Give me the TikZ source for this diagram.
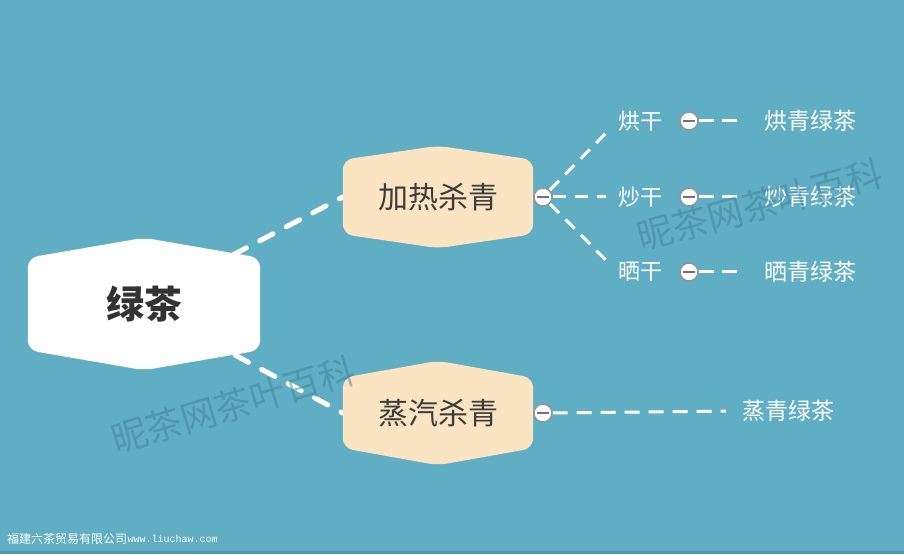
\documentclass[tikz,border=0pt]{standalone}
\usepackage{fontspec}
\setmainfont{Noto Sans CJK SC}
\newfontfamily\urlfont{Liberation Mono}
\usetikzlibrary{calc}
\definecolor{bgteal}{HTML}{60AEC4}
\definecolor{peach}{HTML}{FBE4C2}
\definecolor{darktext}{HTML}{3C3C3C}
\definecolor{wmark}{HTML}{3A7C92}
\definecolor{stripe}{HTML}{4E9AB0}
\pgfdeclarelayer{back}
\pgfdeclarelayer{mid}
\pgfsetlayers{back,mid,main}
\newcommand\hexshape[3]{%
  \fill[#3, rounded corners=10pt] (#1.south west) -- (#1.north west) -- ($(#1.north)+(0,#2)$) -- (#1.north east) -- (#1.south east) -- ($(#1.south)+(0,-#2)$) -- cycle;}
\tikzset{
  hexbox/.style={inner sep=0pt, text=darktext},
  knob/.style={circle, minimum size=18pt, inner sep=0pt, fill=white, draw=gray!85, line width=1.4pt,
    path picture={\draw[gray!90!black, line width=1.6pt] ([xshift=-6pt]path picture bounding box.center) -- ([xshift=6pt]path picture bounding box.center);}},
  lvl/.style={inner sep=0pt, text=white, font=\fontsize{22}{24}\selectfont},
  leaf/.style={inner sep=0pt, text=white, font=\fontsize{23}{25}\selectfont},
  mainlink/.style={white, line width=5pt, line cap=round, dash pattern=on 15pt off 15pt},
  sublink/.style={white, line width=3pt, dash pattern=on 13pt off 9pt},
  wmtext/.style={text=wmark, opacity=0.45, font=\fontsize{36}{38}\selectfont, inner sep=0pt}
}
\begin{document}
\begin{tikzpicture}[x=1pt,y=1pt]
\begin{pgfonlayer}{back}
  \fill[bgteal] (0,0) rectangle (904,554);
  \fill[stripe] (0,0) rectangle (904,3);
\end{pgfonlayer}
\useasboundingbox (0,0) rectangle (904,554);

% main nodes
\node[hexbox, minimum width=232pt, minimum height=92pt, text=black!80, font=\fontsize{38}{40}\selectfont\bfseries] (root) at (144,250) {绿茶};
\node[hexbox, minimum width=190pt, minimum height=74pt, font=\fontsize{30}{32}\selectfont] (kh) at (438,357) {加热杀青};
\node[hexbox, minimum width=190pt, minimum height=70pt, font=\fontsize{30}{32}\selectfont] (kz) at (438,141) {蒸汽杀青};

% knobs
\node[knob] (c1) at (543,357) {};
\node[knob] (c2) at (543,141) {};
\node[knob] (d1) at (689,433) {};
\node[knob] (d2) at (689,357) {};
\node[knob] (d3) at (689,282) {};

% level-3 and leaves
\node[lvl] (t1) at (640,433) {烘干};
\node[lvl] (t2) at (640,357) {炒干};
\node[lvl] (t3) at (640,282) {晒干};
\node[leaf] (l1) at (810,433) {烘青绿茶};
\node[leaf] (l2) at (810,357) {炒青绿茶};
\node[leaf] (l3) at (810,282) {晒青绿茶};
\node[leaf] (l4) at (788,143) {蒸青绿茶};

\begin{pgfonlayer}{mid}
  \draw[mainlink] ($(root.north east)+(-27,3)$) -- (kh.west);
  \draw[mainlink] ($(root.south east)+(-25,-5)$) -- (kz.west);
  \hexshape{root}{20}{white}
  \hexshape{kh}{14}{peach}
  \hexshape{kz}{17}{peach}
  \draw[sublink, shorten >=12pt] (c1) -- (t1.west);
  \draw[sublink, shorten >=12pt] (c1) -- (t2.west);
  \draw[sublink, shorten >=12pt] (c1) -- (t3.west);
  \draw[sublink, dash pattern=on 15pt off 8pt, shorten >=26pt] (d1) -- (l1.west);
  \draw[sublink, dash pattern=on 15pt off 8pt, shorten >=26pt] (d2) -- (l2.west);
  \draw[sublink, dash pattern=on 15pt off 8pt, shorten >=26pt] (d3) -- (l3.west);
  \draw[sublink, dash pattern=on 15pt off 9pt, shorten >=16pt] (c2) -- (l4.west);
\end{pgfonlayer}

% watermarks
\node[wmtext, rotate=16.5] (w1) at (233,149) {昵茶网茶叶百科};
\node[wmtext, rotate=15] (w2) at (760,349) {昵茶网茶叶百科};

% footer
\node[anchor=west, inner sep=0pt, text=white, font=\fontsize{12}{13}\selectfont] (f1) at (7,15) {福建六茶贸易有限公司};
\node[anchor=west, inner sep=0pt, text=white, font=\urlfont\fontsize{10}{11}\selectfont] (f2) at (f1.east) {www.liuchaw.com};
\end{tikzpicture}
\end{document}
